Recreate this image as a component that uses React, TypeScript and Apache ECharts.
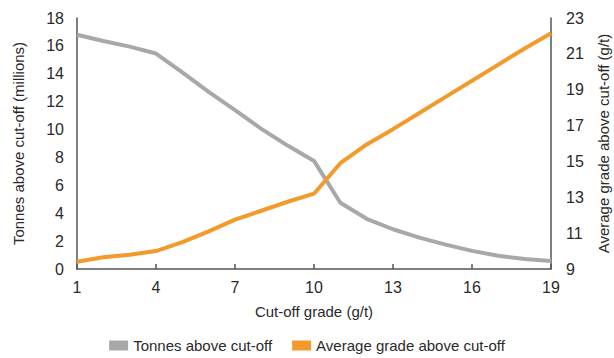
import React, { useEffect, useRef } from "react";
import * as echarts from "echarts";

const cutoffGrades = ["1","2","3","4","5","6","7","8","9","10","11","12","13","14","15","16","17","18","19"];
const tonnesAbove = [16.8, 16.35, 15.95, 15.45, 14.1, 12.7, 11.4, 10.05, 8.85, 7.75, 4.75, 3.6, 2.85, 2.25, 1.75, 1.3, 0.95, 0.72, 0.58];
const avgGradeAbove = [9.4, 9.65, 9.8, 10.0, 10.5, 11.1, 11.75, 12.25, 12.75, 13.2, 14.9, 15.95, 16.8, 17.7, 18.6, 19.5, 20.4, 21.3, 22.15];

const FONT = "'Liberation Sans', Arial, sans-serif";
const FS = 15;
const GRAY = "#a8a8aa";
const ORANGE = "#f39a2c";
const AXIS = "#555555";
const TEXT = "#2a2a2a";

export default function App() {
  const ref = useRef<HTMLDivElement>(null);
  useEffect(() => {
    document.body.style.margin = "0";
    const chart = echarts.init(ref.current!, null, { renderer: "svg" });
    chart.setOption({
      animation: false,
      backgroundColor: "#ffffff",
      textStyle: { fontFamily: FONT },
      grid: { left: 77, right: 63, top: 18, bottom: 89, containLabel: false, outerBoundsMode: "none" },
      legend: {
        bottom: 0,
        left: "center",
        icon: "rect",
        itemWidth: 19,
        itemHeight: 10,
        itemGap: 20,
        textStyle: { fontFamily: FONT, fontSize: FS, color: TEXT },
        data: ["Tonnes above cut-off", "Average grade above cut-off"],
      },
      xAxis: {
        type: "category",
        data: cutoffGrades,
        boundaryGap: false,
        name: "Cut-off grade (g/t)",
        nameLocation: "middle",
        nameGap: 35,
        nameTextStyle: { fontFamily: FONT, fontSize: FS, color: TEXT },
        axisLine: { lineStyle: { color: AXIS, width: 1.5 } },
        axisTick: { show: true, inside: true, length: 5, interval: 2, lineStyle: { color: AXIS, width: 1.5 } },
        axisLabel: { interval: 2, margin: 10, fontFamily: FONT, fontSize: FS + 1, color: TEXT },
        splitLine: { show: false },
      },
      yAxis: [
        {
          type: "value",
          min: 0,
          max: 18,
          interval: 2,
          position: "left",
          name: "Tonnes above cut-off (millions)",
          nameLocation: "middle",
          nameRotate: 90,
          nameGap: 51,
          nameTextStyle: { fontFamily: FONT, fontSize: FS, color: TEXT },
          axisLine: { show: true, lineStyle: { color: AXIS, width: 1.5 } },
          axisTick: { show: false },
          axisLabel: { margin: 13, fontFamily: FONT, fontSize: FS + 1, color: TEXT },
          splitLine: { show: false },
        },
        {
          type: "value",
          min: 9,
          max: 23,
          interval: 1,
          position: "right",
          name: "Average grade above cut-off (g/t)",
          nameLocation: "middle",
          nameRotate: 90,
          nameGap: 45,
          nameTextStyle: { fontFamily: FONT, fontSize: FS, color: TEXT },
          axisLine: { show: true, lineStyle: { color: AXIS, width: 1.5 } },
          axisTick: { show: false },
          axisLabel: {
            margin: 15,
            fontFamily: FONT,
            fontSize: FS + 1,
            color: TEXT,
            formatter: (v: number) => (Math.round(v) % 2 === 1 ? String(v) : ""),
          },
          splitLine: { show: false },
        },
      ],
      series: [
        {
          name: "Tonnes above cut-off",
          type: "line",
          yAxisIndex: 0,
          data: tonnesAbove,
          showSymbol: false,
          symbol: "none",
          itemStyle: { color: GRAY },
          lineStyle: { color: GRAY, width: 4 },
        },
        {
          name: "Average grade above cut-off",
          type: "line",
          yAxisIndex: 1,
          data: avgGradeAbove,
          showSymbol: false,
          symbol: "none",
          itemStyle: { color: ORANGE },
          lineStyle: { color: ORANGE, width: 4 },
        },
      ],
    });
    return () => chart.dispose();
  }, []);
  return <div ref={ref} style={{ width: 614, height: 358 }} />;
}
